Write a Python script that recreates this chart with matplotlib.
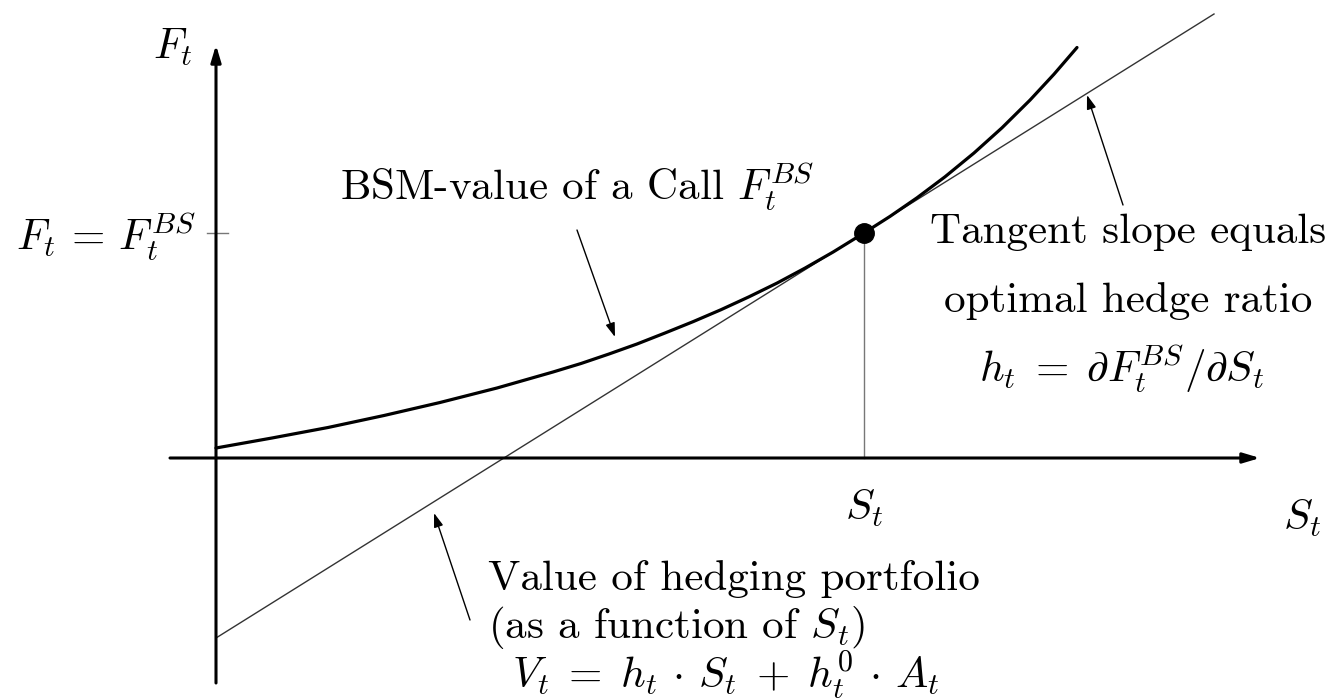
import matplotlib
matplotlib.use('Agg')
import matplotlib.pyplot as plt

plt.rcParams['mathtext.fontset'] = 'cm'
plt.rcParams['font.family'] = 'cmr10'
plt.rcParams['axes.formatter.use_mathtext'] = True

# BSM call value as a function of the underlying
stock = [0, 0.56, 1.12, 1.68, 2.24, 2.81, 3.37, 3.65, 3.93, 4.21, 4.49,
         4.77, 5.05, 5.33, 5.61, 5.89, 6.17, 6.48, 6.74, 7.01, 7.29, 7.58,
         7.86, 8.14, 8.38, 8.61]
call_value = [0.10, 0.20, 0.305, 0.425, 0.555, 0.70, 0.86, 0.945, 1.04, 1.14,
              1.25, 1.363, 1.483, 1.612, 1.749, 1.899, 2.059, 2.25, 2.416,
              2.602, 2.812, 3.05, 3.302, 3.579, 3.838, 4.105]

# current spot and option value
spot = 6.48
option_now = 2.25

# hedging portfolio (tangent at the current spot)
hedge_x = [0.0, 9.98]
hedge_y = [-1.80, 4.44]

fig = plt.figure(figsize=(13.29, 7.0), dpi=100)
ax = fig.add_axes([0, 0, 1, 1])
ax.set_xlim(-2.16, 11.13)
ax.set_ylim(-2.42, 4.58)
ax.axis('off')


def arrow(start, tip, lw, head):
    ax.annotate('', xy=tip, xytext=start,
                arrowprops=dict(arrowstyle='-|>,head_length=%.2f,head_width=%.2f' % head,
                                lw=lw, color='black', shrinkA=0, shrinkB=0,
                                mutation_scale=20))


# coordinate axes
arrow((0, -2.25), (0, 4.13), 2.2, (0.5, 0.15))
arrow((-0.46, 0), (10.44, 0), 2.2, (0.5, 0.15))

# tick at the option value
ax.plot([-0.09, 0.12], [option_now, option_now], color='#777777', lw=1.0)

# tangent / hedge portfolio
ax.plot(hedge_x, hedge_y, color='#333333', lw=1.0)

# option value curve
ax.plot(stock, call_value, color='black', lw=2.3, solid_capstyle='round',
        solid_joinstyle='round')

# drop line and current point
ax.plot([spot, spot], [0, option_now], color='#777777', lw=1.0)
ax.plot([spot], [option_now], 'o', color='black', ms=14)

# pointer arrows
arrow((3.61, 2.28), (3.99, 1.21), 1.0, (0.42, 0.14))
arrow((9.07, 2.53), (8.71, 3.63), 1.0, (0.42, 0.14))
arrow((2.54, -1.62), (2.18, -0.55), 1.0, (0.42, 0.14))

fs = 31
ax.text(-0.63, 3.99, r'$F_t$', fontsize=fs, ha='left', va='baseline')
ax.text(-0.21, 2.08, r'$F_t \,=\, F_t^{BS}$', fontsize=fs, ha='right', va='baseline')
ax.text(1.24, 2.58, r'BSM-value of a Call $F_t^{BS}$', fontsize=fs,
        ha='left', va='baseline')
ax.text(9.12, 2.15, 'Tangent slope equals', fontsize=fs, ha='center', va='baseline')
ax.text(9.12, 1.46, 'optimal hedge ratio', fontsize=fs, ha='center', va='baseline')
ax.text(9.06, 0.76, r'$h_t \;=\; \partial F_t^{BS} / \partial S_t$', fontsize=fs,
        ha='center', va='baseline')
ax.text(spot, -0.62, r'$S_t$', fontsize=fs, ha='center', va='baseline')
ax.text(10.86, -0.72, r'$S_t$', fontsize=fs, ha='center', va='baseline')
ax.text(2.72, -1.32, 'Value of hedging portfolio', fontsize=fs,
        ha='left', va='baseline')
ax.text(2.72, -1.80, r'(as a function of $S_t$)', fontsize=fs,
        ha='left', va='baseline')
ax.text(2.96, -2.30,
        r'$V_t \;=\; h_t \,\cdot\, S_t \;+\; h_t^0 \,\cdot\, A_t$',
        fontsize=fs, ha='left', va='baseline')

fig.savefig('out.png', dpi=100)
